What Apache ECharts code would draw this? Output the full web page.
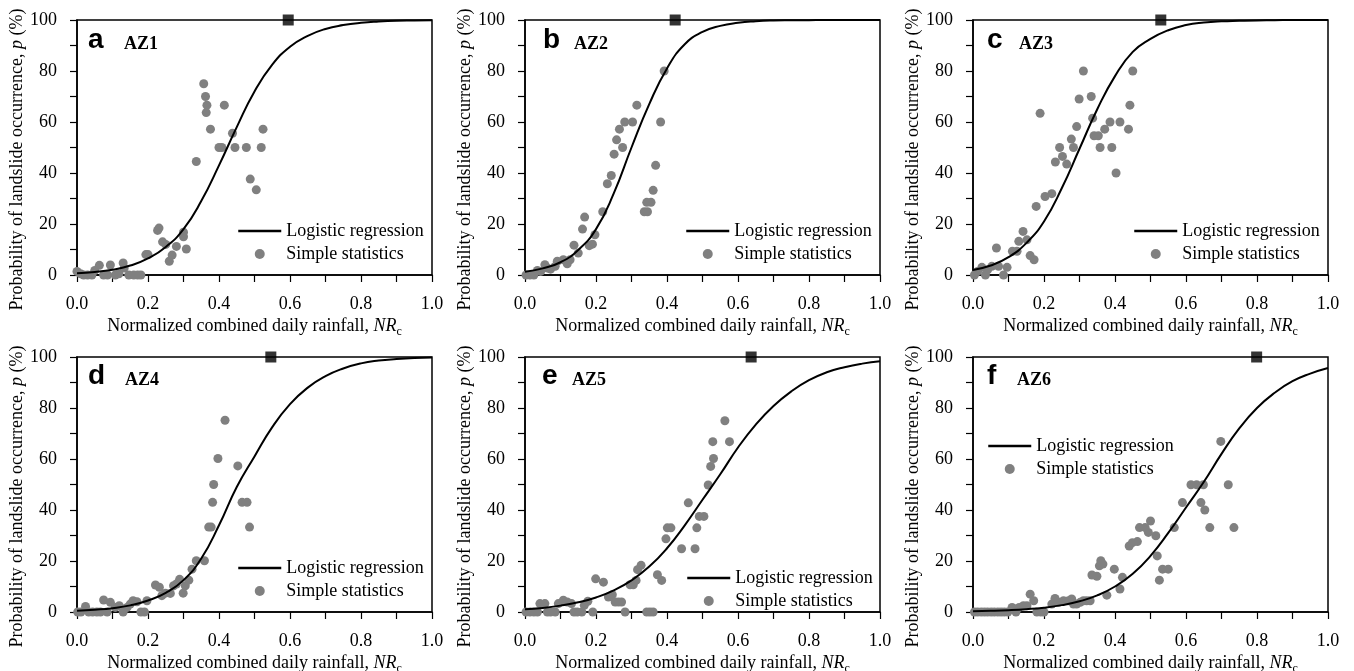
<!DOCTYPE html>
<html><head><meta charset="utf-8">
<script src="https://cdn.jsdelivr.net/npm/echarts@6/dist/echarts.min.js"></script>
<style>html,body{margin:0;padding:0;background:#fff}#c{width:1354px;height:671px}</style>
</head><body><div id="c"></div><script>
// ---------- data ----------
const panelLetters = ['a', 'b', 'c', 'd', 'e', 'f'];
const zoneNames = ['AZ1', 'AZ2', 'AZ3', 'AZ4', 'AZ5', 'AZ6'];
const xTicks = [0, 0.2, 0.4, 0.6, 0.8, 1.0];
const yTicks = [0, 20, 40, 60, 80, 100];
const curveX = [0, 0.05, 0.1, 0.15, 0.2, 0.25, 0.3, 0.35, 0.4, 0.45, 0.5, 0.55, 0.6, 0.65, 0.7, 0.75, 0.8, 0.85, 0.9, 0.95, 1.0];
const az1Curve = [0.7, 1.2, 2.1, 3.7, 6.5, 11, 18, 29, 43, 58, 72, 82.5, 89.5, 93.8, 96.5, 98, 98.9, 99.4, 99.7, 99.8, 99.9];
const az2Curve = [1.3, 2.6, 5, 9.8, 18, 32, 50, 67, 81, 90.5, 95.3, 97.7, 98.9, 99.5, 99.8, 99.9, 99.95, 100, 100, 100, 100];
const az3Curve = [2, 3.7, 7, 12.5, 21, 34, 49.5, 65, 78, 87.5, 92.6, 96, 98, 99, 99.5, 99.7, 99.85, 99.9, 100, 100, 100];
const az4Curve = [0.5, 0.9, 1.5, 2.6, 4.5, 7.5, 12.5, 21, 34, 49, 61, 72.5, 81.5, 88, 92.5, 95.5, 97.5, 98.6, 99.2, 99.6, 99.8];
const az5Curve = [1.1, 1.6, 2.5, 3.8, 5.7, 8.5, 12.4, 17.8, 25, 34, 44, 54, 64.5, 73.5, 80.8, 86.5, 90.9, 94, 96, 97.4, 98.3];
const az6Curve = [0.3, 0.45, 0.7, 1.1, 1.7, 2.7, 4.2, 6.5, 10, 15, 22, 31, 41, 51, 62, 72, 80, 86, 90.5, 93.5, 95.7];

const az1Stats = [[0.0,1.4],[0.01,0.5],[0.019,0],[0.03,0],[0.042,0],[0.05,1.8],[0.063,3.8],[0.075,0],[0.086,0],[0.094,3.9],[0.108,0],[0.118,0.5],[0.13,4.7],[0.133,2.7],[0.146,0],[0.16,0],[0.171,0],[0.18,0],[0.194,8],[0.2,8],[0.227,17.5],[0.231,18.4],[0.241,13],[0.25,12],[0.26,5.4],[0.268,7.8],[0.28,11.2],[0.30,16.8],[0.30,15],[0.308,10.2],[0.336,44.5],[0.357,75],[0.362,70],[0.366,66.6],[0.364,63.7],[0.376,57.2],[0.4,50],[0.408,50],[0.415,66.6],[0.438,55.6],[0.445,50],[0.477,50],[0.488,37.6],[0.505,33.4],[0.519,50],[0.524,57.2]];
const az2Stats = [[0.003,0],[0.014,0],[0.025,0],[0.035,1.8],[0.044,1.4],[0.056,4],[0.063,2.7],[0.072,2.3],[0.085,3.4],[0.091,5.4],[0.108,6],[0.119,4.4],[0.127,6],[0.138,11.7],[0.15,8.6],[0.162,18],[0.168,22.7],[0.181,11.5],[0.19,12.1],[0.197,15.8],[0.219,24.8],[0.232,35.8],[0.243,39],[0.251,47.4],[0.258,53],[0.266,57.2],[0.275,50],[0.281,60],[0.303,60],[0.315,66.6],[0.336,24.8],[0.345,24.8],[0.343,28.5],[0.355,28.5],[0.361,33.2],[0.368,43],[0.382,60],[0.392,80]];
const az3Stats = [[0.004,0],[0.013,1.4],[0.025,3],[0.035,0],[0.041,2],[0.053,3.4],[0.066,10.6],[0.072,3.4],[0.086,0],[0.096,3],[0.111,9.3],[0.124,9.3],[0.129,13.2],[0.141,17.1],[0.152,13.8],[0.161,7.6],[0.172,6],[0.178,26.9],[0.189,63.4],[0.203,30.8],[0.222,31.9],[0.232,44.3],[0.244,50],[0.252,46.5],[0.264,43.5],[0.277,53.3],[0.283,50],[0.292,58.2],[0.299,69],[0.311,80],[0.333,70],[0.337,61.5],[0.341,54.6],[0.353,54.6],[0.358,50],[0.371,57.2],[0.386,60],[0.391,50],[0.403,40],[0.414,60],[0.438,57.2],[0.442,66.6],[0.45,80]];
const az4Stats = [[0.002,0],[0.011,0],[0.024,2.2],[0.033,0],[0.044,0],[0.056,0],[0.066,0],[0.075,4.7],[0.085,0],[0.094,3.8],[0.108,1.8],[0.119,2.5],[0.13,0],[0.141,1.8],[0.15,3.1],[0.158,4.4],[0.169,4],[0.18,0],[0.19,0],[0.197,4.4],[0.221,10.6],[0.232,9.7],[0.239,6.4],[0.249,7.4],[0.263,7.3],[0.272,10.3],[0.28,11],[0.289,12.8],[0.299,7.4],[0.305,10.3],[0.315,12.5],[0.324,16.8],[0.336,20.1],[0.359,20.1],[0.371,33.3],[0.378,33.3],[0.382,43],[0.385,50],[0.397,60.2],[0.417,75.2],[0.453,57.3],[0.465,43],[0.479,43],[0.486,33.3]];
const az5Stats = [[0.003,0],[0.014,0],[0.025,0],[0.035,0],[0.042,3.3],[0.056,3.3],[0.063,0],[0.072,0],[0.085,0],[0.094,3.3],[0.108,4.6],[0.119,3.9],[0.131,3.3],[0.138,0],[0.147,0],[0.16,0],[0.167,2.6],[0.177,4.2],[0.191,0],[0.199,13],[0.221,11.7],[0.235,5.9],[0.246,6.8],[0.254,3.9],[0.263,3.9],[0.272,3.9],[0.282,0],[0.296,10.7],[0.305,10.7],[0.313,12.4],[0.317,16.6],[0.327,18.3],[0.343,0],[0.352,0],[0.361,0],[0.373,14.6],[0.385,12.4],[0.397,28.7],[0.401,33],[0.411,33],[0.441,24.8],[0.46,42.8],[0.479,24.8],[0.484,33],[0.491,37.5],[0.504,37.5],[0.516,49.8],[0.523,57.1],[0.531,60.2],[0.529,66.8],[0.563,75],[0.576,66.8]];
const az6Stats = [[0.004,0],[0.013,0],[0.023,0],[0.032,0],[0.041,0],[0.051,0],[0.06,0],[0.07,0],[0.079,0],[0.088,0],[0.098,0],[0.11,1.8],[0.121,0],[0.13,1.8],[0.142,2.5],[0.152,2.5],[0.161,7],[0.171,4.4],[0.18,0],[0.191,0],[0.2,0],[0.222,3.1],[0.231,5.3],[0.241,3.8],[0.255,4.4],[0.269,4.4],[0.278,5.1],[0.283,3.1],[0.292,3.1],[0.302,3.8],[0.311,4.4],[0.32,4.4],[0.33,4.4],[0.335,14.5],[0.349,14],[0.356,18.1],[0.36,20.1],[0.366,18.8],[0.377,6.6],[0.398,16.8],[0.414,9],[0.421,13.6],[0.44,25.9],[0.449,27.2],[0.463,27.6],[0.469,33.1],[0.485,33.1],[0.494,31.2],[0.5,35.7],[0.515,29.9],[0.519,22],[0.525,12.5],[0.534,16.8],[0.55,16.8],[0.567,33.1],[0.59,42.9],[0.614,49.9],[0.63,49.9],[0.649,49.9],[0.642,42.9],[0.653,40],[0.667,33.1],[0.698,66.9],[0.719,49.9],[0.735,33.1]];
const thresholdX = [0.595, 0.423, 0.529, 0.546, 0.637, 0.799];

const curves = [az1Curve, az2Curve, az3Curve, az4Curve, az5Curve, az6Curve];
const stats = [az1Stats, az2Stats, az3Stats, az4Stats, az5Stats, az6Stats];

// ---------- layout ----------
const SERIF = 'Liberation Serif';
const gridLefts = [77, 525, 973];
const gridTops = [20, 357];
const gridW = 355, gridH = 255;
const legendPos = [[237, 222], [685, 222], [1133, 222], [237, 559], [686, 569], [987, 437]];
const letterPos = [[88, 26], [543, 26], [987, 26], [88, 362], [542, 362], [987, 362]];
const zonePos = [[124, 35], [574, 35], [1019, 35], [125, 371], [572, 371], [1017, 371]];

const grids = [], xAxes = [], yAxes = [], series = [], legends = [], titles = [];
for (let i = 0; i < 6; i++) {
  const col = i % 3, row = Math.floor(i / 3);
  grids.push({left: gridLefts[col], top: gridTops[row], width: gridW, height: gridH,
    containLabel: false, outerBoundsMode: 'none',
    show: true, borderColor: '#000', borderWidth: 1.5, backgroundColor: 'transparent'});
  xAxes.push({
    type: 'value', gridIndex: i, min: xTicks[0], max: xTicks[xTicks.length - 1], interval: 0.2,
    splitLine: {show: false},
    axisLine: {show: true, lineStyle: {color: '#000', width: 1.5}},
    axisTick: {show: true, inside: false, length: 7, lineStyle: {color: '#000', width: 1.2}},
    minorTick: {show: true, splitNumber: 2, length: 7, lineStyle: {color: '#000', width: 1.2}},
    axisLabel: {color: '#000', fontFamily: SERIF, fontSize: 18, margin: 20,
      formatter: v => v.toFixed(1)},
    name: '{n|Normalized combined daily rainfall, }{i|NR}{s|c}',
    nameLocation: 'middle', nameGap: 39,
    nameTextStyle: {rich: {
      n: {fontFamily: SERIF, fontSize: 18, color: '#000'},
      i: {fontFamily: SERIF, fontSize: 18, fontStyle: 'italic', color: '#000'},
      s: {fontFamily: SERIF, fontSize: 12, color: '#000', padding: [12, 0, 0, 0]}
    }}
  });
  yAxes.push({
    type: 'value', gridIndex: i, min: yTicks[0], max: yTicks[yTicks.length - 1], interval: 20,
    splitLine: {show: false},
    axisLine: {show: true, lineStyle: {color: '#000', width: 1.5}},
    axisTick: {show: true, inside: false, length: 7, lineStyle: {color: '#000', width: 1.2}},
    minorTick: {show: true, splitNumber: 2, length: 7, lineStyle: {color: '#000', width: 1.2}},
    axisLabel: {color: '#000', fontFamily: SERIF, fontSize: 18, margin: 20},
    name: '{n|Probability of landslide occurrence, }{i|p}{n| (%)}',
    nameLocation: 'middle', nameGap: 50,
    nameTextStyle: {padding: [0, 24, 0, 0], rich: {
      n: {fontFamily: SERIF, fontSize: 18, color: '#000'},
      i: {fontFamily: SERIF, fontSize: 18, fontStyle: 'italic', color: '#000'}
    }}
  });
  series.push({
    type: 'line', name: 'Logistic regression', xAxisIndex: i, yAxisIndex: i,
    data: curveX.map((x, j) => [x, curves[i][j]]),
    symbol: 'none', showSymbol: false, smooth: 0.5,
    lineStyle: {color: '#000', width: 2}, itemStyle: {color: '#000'}, z: 4, silent: true
  });
  series.push({
    type: 'scatter', name: 'Simple statistics', xAxisIndex: i, yAxisIndex: i,
    data: stats[i], symbol: 'circle', symbolSize: 9,
    itemStyle: {color: '#808080', opacity: 1}, z: 3, silent: true
  });
  series.push({
    type: 'scatter', name: 'threshold' + i, xAxisIndex: i, yAxisIndex: i,
    data: [[thresholdX[i], 100]], symbol: 'rect', symbolSize: 11, clip: false,
    itemStyle: {color: '#000'}, z: 6, silent: true
  });
  legends.push({
    orient: 'vertical', left: legendPos[i][0], top: legendPos[i][1], padding: 0,
    itemWidth: 43, itemHeight: 10, itemGap: 5, selectedMode: false,
    textStyle: {fontFamily: SERIF, fontSize: 18, color: '#000', padding: [0, 0, 0, 0]},
    data: [
      {name: 'Logistic regression', itemStyle: {opacity: 0}, lineStyle: {color: '#000', width: 2.5}},
      {name: 'Simple statistics'}
    ]
  });
  titles.push({text: panelLetters[i], left: letterPos[i][0], top: letterPos[i][1], padding: 0,
    textStyle: {fontFamily: 'Liberation Sans', fontWeight: 'bold', fontSize: 28, color: '#000'}});
  titles.push({text: zoneNames[i], left: zonePos[i][0], top: zonePos[i][1], padding: 0,
    textStyle: {fontFamily: SERIF, fontWeight: 'bold', fontSize: 18, color: '#000'}});
}

const chart = echarts.init(document.getElementById('c'), null, {renderer: 'canvas'});
chart.setOption({
  animation: false,
  backgroundColor: '#fff',
  title: titles, grid: grids, xAxis: xAxes, yAxis: yAxes, legend: legends, series: series
});
</script></body></html>
